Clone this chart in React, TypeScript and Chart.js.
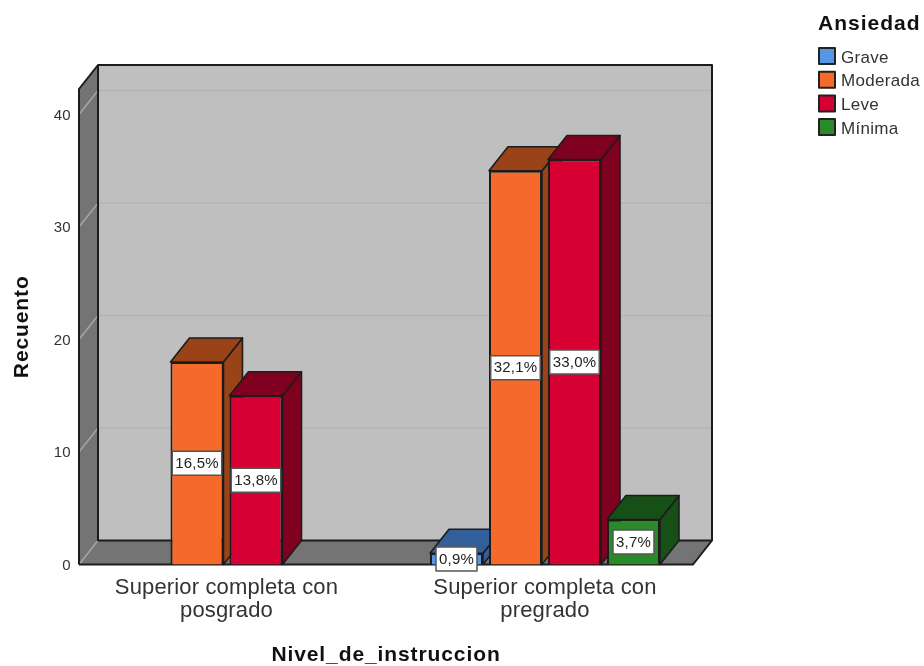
import React, { useEffect, useRef } from "react";
import { Chart, registerables } from "chart.js";

Chart.register(...registerables);

const categories: string[][] = [
  ["Superior completa con", "posgrado"],
  ["Superior completa con", "pregrado"],
];
const levels = ["Grave", "Moderada", "Leve", "Mínima"];
const grave = [null, 1];
const moderada = [18, 35];
const leve = [15, 36];
const minima = [null, 4];
const graveLabels = [null, "0,9%"];
const moderadaLabels = ["16,5%", "32,1%"];
const leveLabels = ["13,8%", "33,0%"];
const minimaLabels = [null, "3,7%"];
const yTickValues = [0, 10, 20, 30, 40];

const frontColors = ["#5596E6", "#F56A2B", "#D60032", "#2A8A2A"];
const topColors = ["#33609A", "#9A4318", "#800020", "#165016"];
const sideColors = ["#33609A", "#9A4318", "#800020", "#165016"];

const FONT = "'Liberation Sans', Arial, sans-serif";
const DEPTH_X = 19;
const DEPTH_Y = 24;
const EDGE = "#1c1c1c";

function poly(ctx: CanvasRenderingContext2D, pts: number[][], fill: string | null, stroke: string | null, lw = 2) {
  ctx.beginPath();
  pts.forEach((p, i) => (i ? ctx.lineTo(p[0], p[1]) : ctx.moveTo(p[0], p[1])));
  ctx.closePath();
  if (fill) {
    ctx.fillStyle = fill;
    ctx.fill();
  }
  if (stroke) {
    ctx.strokeStyle = stroke;
    ctx.lineWidth = lw;
    ctx.lineJoin = "round";
    ctx.stroke();
  }
}

// Runs one of a scale's draw methods with wider tracking and a small nudge.
function tweak(scale: any, method: string, spacing: number, nudgeX: number, nudgeY: number) {
  const original = scale[method];
  scale[method] = function (...args: any[]) {
    const ctx = scale.ctx;
    ctx.save();
    ctx.letterSpacing = `${spacing}px`;
    ctx.translate(nudgeX, nudgeY);
    original.apply(scale, args);
    ctx.restore();
  };
}

// Back wall, left wall and floor of the box, with gridlines from the y scale.
const boxPlugin = {
  id: "box",
  beforeDraw(chart: any) {
    if (chart.$tracked) return;
    chart.$tracked = true;
    tweak(chart.scales.x, "drawLabels", 0.15, 0, 1);
    tweak(chart.scales.x, "drawTitle", 0.9, 0, 2);
    tweak(chart.scales.y, "drawLabels", 0.3, 0, 1);
    tweak(chart.scales.y, "drawTitle", 0.9, 2, 0);
  },
  beforeDatasetsDraw(chart: any) {
    const { ctx, chartArea: a, scales } = chart;
    const y = scales.y;
    const dx = DEPTH_X;
    const dy = DEPTH_Y;
    const backLeft = a.left + dx;
    const backRight = a.right + dx;
    const backTop = a.top - dy;
    const backBottom = a.bottom - dy;
    ctx.save();
    poly(ctx, [[backLeft, backTop], [backRight, backTop], [backRight, backBottom], [backLeft, backBottom]], "#BFBFBF", null);
    poly(ctx, [[a.left, a.top], [backLeft, backTop], [backLeft, backBottom], [a.left, a.bottom]], "#747474", null);
    poly(ctx, [[a.left, a.bottom], [backLeft, backBottom], [backRight, backBottom], [a.right, a.bottom]], "#747474", null);

    yTickValues.forEach((v) => {
      const py = y.getPixelForValue(v);
      ctx.lineWidth = 1.5;
      ctx.strokeStyle = "#A6A6A6";
      ctx.beginPath();
      ctx.moveTo(a.left, py);
      ctx.lineTo(backLeft, py - dy);
      ctx.stroke();
      if (v > 0) {
        ctx.strokeStyle = "#B4B4B4";
        ctx.beginPath();
        ctx.moveTo(backLeft, py - dy);
        ctx.lineTo(backRight, py - dy);
        ctx.stroke();
      }
    });

    ctx.strokeStyle = EDGE;
    ctx.lineWidth = 2;
    ctx.lineJoin = "round";
    ctx.beginPath();
    ctx.moveTo(a.left, a.bottom);
    ctx.lineTo(a.left, a.top);
    ctx.lineTo(backLeft, backTop);
    ctx.lineTo(backRight, backTop);
    ctx.lineTo(backRight, backBottom);
    ctx.lineTo(a.right, a.bottom);
    ctx.lineTo(a.left, a.bottom);
    ctx.moveTo(backLeft, backTop);
    ctx.lineTo(backLeft, backBottom);
    ctx.lineTo(backRight, backBottom);
    ctx.stroke();
    ctx.restore();
  },
  // The library's own pass paints the last dataset on top; the box needs left-to-right.
  beforeDatasetDraw() {
    return false;
  },
  afterDatasetsDraw(chart: any) {
    const { ctx, data } = chart;
    const dx = DEPTH_X;
    const dy = DEPTH_Y;
    const boxes: any[] = [];
    data.datasets.forEach((ds: any, di: number) => {
      const meta = chart.getDatasetMeta(di);
      meta.data.forEach((bar: any, i: number) => {
        if (ds.data[i].y == null) return;
        const l = bar.x - bar.width / 2;
        const r = bar.x + bar.width / 2;
        const t = bar.y;
        const b = bar.base;
        poly(ctx, [[r, t], [r + dx, t - dy], [r + dx, b - dy], [r, b]], sideColors[di], EDGE, 1.6);
        poly(ctx, [[l, t], [l + dx, t - dy], [r + dx, t - dy], [r, t]], topColors[di], EDGE, 1.6);
        bar.draw(ctx);
        boxes.push({ x: bar.x, y: (t + b) / 2, text: ds.valueLabels[i] });
      });
    });

    ctx.save();
    ctx.font = `15px ${FONT}`;
    ctx.textAlign = "center";
    ctx.textBaseline = "middle";
    ctx.letterSpacing = "0.2px";
    boxes.forEach((b) => {
      const w = ctx.measureText(b.text).width + 6;
      const h = 24;
      ctx.fillStyle = "#FFFFFF";
      ctx.fillRect(b.x - w / 2, b.y - h / 2, w, h);
      ctx.strokeStyle = "#555555";
      ctx.lineWidth = 1.5;
      ctx.strokeRect(b.x - w / 2, b.y - h / 2, w, h);
      ctx.fillStyle = "#222222";
      ctx.fillText(b.text, b.x, b.y + 0.5);
    });
    ctx.restore();

    // Legend on the right
    ctx.save();
    ctx.textAlign = "left";
    ctx.textBaseline = "middle";
    ctx.fillStyle = "#111111";
    ctx.font = `bold 21px ${FONT}`;
    ctx.letterSpacing = "1px";
    ctx.fillText("Ansiedad", 818, 24);
    ctx.font = `17px ${FONT}`;
    ctx.letterSpacing = "0.3px";
    data.datasets.forEach((ds: any, di: number) => {
      const top = 48 + di * 23.7;
      ctx.fillStyle = frontColors[di];
      ctx.fillRect(819, top, 16, 16);
      ctx.strokeStyle = "#222222";
      ctx.lineWidth = 2;
      ctx.strokeRect(819, top, 16, 16);
      ctx.fillStyle = "#333333";
      ctx.fillText(ds.label, 841, top + 10);
    });
    ctx.restore();
  },
};

function series(values: (number | null)[], labels: (string | null)[], idx: number) {
  return {
    label: levels[idx],
    data: values.map((y, x) => ({ x, y })),
    valueLabels: labels,
    backgroundColor: frontColors[idx],
    borderColor: EDGE,
    borderWidth: 2,
    categoryPercentage: 0.741,
    barPercentage: 0.898,
  };
}

export default function App() {
  const ref = useRef<HTMLCanvasElement>(null);
  useEffect(() => {
    const chart = new Chart(ref.current as HTMLCanvasElement, {
      type: "bar",
      data: {
        datasets: [
          series(grave, graveLabels, 0),
          series(moderada, moderadaLabels, 1),
          series(leve, leveLabels, 2),
          series(minima, minimaLabels, 3),
        ] as any,
      },
      plugins: [boxPlugin],
      options: {
        responsive: false,
        animation: false,
        layout: { padding: { top: 89, right: 231, left: 0, bottom: 0 } },
        plugins: { legend: { display: false }, tooltip: { enabled: false }, title: { display: false } },
        scales: {
          x: {
            type: "linear",
            offset: false,
            min: -0.463,
            max: 1.4647,
            grid: { display: false, drawTicks: false },
            border: { display: false },
            afterBuildTicks: (s: any) => {
              s.ticks = categories.map((_, value) => ({ value }));
            },
            afterFit: (s: any) => {
              s.height = 101.5;
            },
            ticks: {
              autoSkip: false,
              maxRotation: 0,
              padding: 11,
              color: "#333333",
              font: { family: FONT, size: 22, lineHeight: 1.045 },
              callback: (v: any) => categories[v] ?? "",
            },
            title: {
              display: true,
              text: "Nivel_de_instruccion",
              color: "#111111",
              font: { family: FONT, size: 21, weight: "bold" },
              padding: 0,
            },
          },
          y: {
            type: "linear",
            min: 0,
            max: 42.27,
            grid: { display: false, drawTicks: false },
            border: { display: false },
            afterBuildTicks: (s: any) => {
              s.ticks = yTickValues.map((value) => ({ value }));
            },
            afterFit: (s: any) => {
              s.width = 79;
            },
            ticks: {
              padding: 8,
              color: "#333333",
              font: { family: FONT, size: 15 },
              callback: (v: any) => String(v),
            },
            title: {
              display: true,
              text: "Recuento",
              color: "#111111",
              font: { family: FONT, size: 21, weight: "bold" },
              padding: 8,
            },
          },
        },
      } as any,
    });
    return () => chart.destroy();
  }, []);
  return (
    <canvas
      ref={ref}
      width={924}
      height={666}
      style={{ position: "absolute", left: 0, top: 0, display: "block", width: 924, height: 666 }}
    />
  );
}
